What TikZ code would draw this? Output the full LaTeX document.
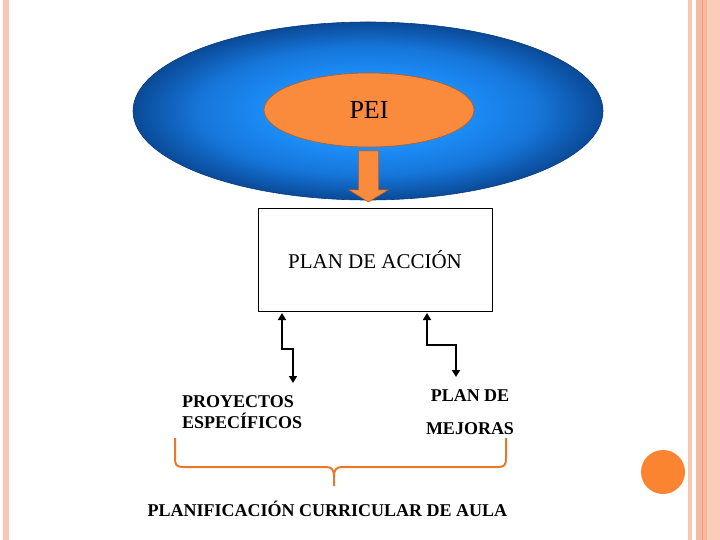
\documentclass[tikz,border=0pt]{standalone}
\usepackage{fontspec}
\setmainfont{Liberation Serif}
\usetikzlibrary{arrows.meta,shapes.geometric}
\definecolor{stripe}{HTML}{F8C6B2}
\definecolor{stripeb}{HTML}{FBCCB8}
\definecolor{stripec}{HTML}{F6B89E}
\definecolor{stripeline}{HTML}{F0A080}
\definecolor{blueIn}{HTML}{1E92FF}
\definecolor{blueMid}{HTML}{1676DA}
\definecolor{blueOut}{HTML}{0A4A98}
\definecolor{peiOrange}{HTML}{FA8A3C}
\definecolor{peiEdge}{HTML}{B85A1E}
\definecolor{braceOrange}{HTML}{E8792A}
\definecolor{dotOrange}{HTML}{FB8430}
\pgfdeclareradialshading{peiblue}{\pgfpoint{0bp}{0bp}}{%
  color(0bp)=(blueIn); color(9bp)=(blueIn); color(18bp)=(blueMid);
  color(25bp)=(blueOut); color(50bp)=(blueOut)}
\tikzset{
  conn/.style={line width=2pt, black, {Triangle[width=8pt,length=7pt]}-{Triangle[width=8pt,length=7pt]}},
  lbl/.style={inner sep=0pt, font=\fontsize{18}{21}\selectfont\bfseries},
}
\begin{document}
\begin{tikzpicture}[x=1pt,y=-1pt]
\useasboundingbox (0,0) rectangle (720,540);
\fill[white] (0,0) rectangle (720,540);
% decorative stripes
\fill[stripe] (3,0) rectangle (9,540);
\fill[stripe] (688,0) rectangle (692,540);
\fill[stripeb] (696,0) rectangle (720,540);
\fill[stripec] (696,0) rectangle (707,540);
\draw[stripeline, line width=0.8pt] (702,0) -- (702,540);
\fill[dotOrange] (663,472) circle (22);
% big ellipse
\node[ellipse, minimum width=470, minimum height=178, inner sep=0pt,
      shading=peiblue, draw=blueOut!80!black, line width=0.6pt]
      (outer) at (368,111) {};
\node[ellipse, minimum width=210, minimum height=74, inner sep=0pt,
      fill=peiOrange, draw=peiEdge, line width=0.6pt,
      font=\fontsize{26}{28}\selectfont] (pei) at (369,110) {PEI};
% orange arrow
\fill[peiOrange, draw=peiEdge, line width=0.5pt]
  (358.5,151) -- (378.5,151) -- (378.5,190) -- (388,190) -- (368.5,202)
  -- (349,190) -- (358.5,190) -- cycle;
% plan de accion box
\node[draw=black, line width=0.8pt, minimum width=234, minimum height=103, inner sep=0pt] (plan) at (375,259.5) {};
\node[inner sep=0pt, font=\fontsize{21}{23}\selectfont, anchor=base] (plantxt) at (375,268) {PLAN DE ACCIÓN};
% labels
\node[lbl, align=left, anchor=north west] (proy) at (182,395) {PROYECTOS\\ESPECÍFICOS};
\node[lbl, align=center, anchor=north, font=\fontsize{18}{33}\selectfont\bfseries] (mej) at (470,389) {PLAN DE\\MEJORAS};
\node[lbl, anchor=base] (aula) at (327.5,516) {PLANIFICACIÓN CURRICULAR DE AULA};
% connectors
\coordinate (l1) at (282,313);
\coordinate (l2) at (293,383);
\coordinate (r1) at (427,313);
\coordinate (r2) at (456,377);
\draw[conn] (l1) -- (l1 |- 0,348.5) -- (l2 |- 0,348.5) -- (l2);
\draw[conn] (r1) -- (r1 |- 0,345) -- (r2 |- 0,345) -- (r2);
% brace
\coordinate (bl) at (175,438);
\coordinate (br) at (506,438);
\coordinate (bt) at (334,486);
\draw[braceOrange, line width=2pt]
  (bl) -- (175,459) .. controls (175,465) and (177,467) .. (183,467)
  -- (326,467) .. controls (332,467) and (334,470) .. (334,476) -- (bt);
\draw[braceOrange, line width=2pt]
  (br) -- (506,459) .. controls (506,465) and (504,467) .. (498,467)
  -- (342,467) .. controls (336,467) and (334,470) .. (334,476);
\end{tikzpicture}
\end{document}
